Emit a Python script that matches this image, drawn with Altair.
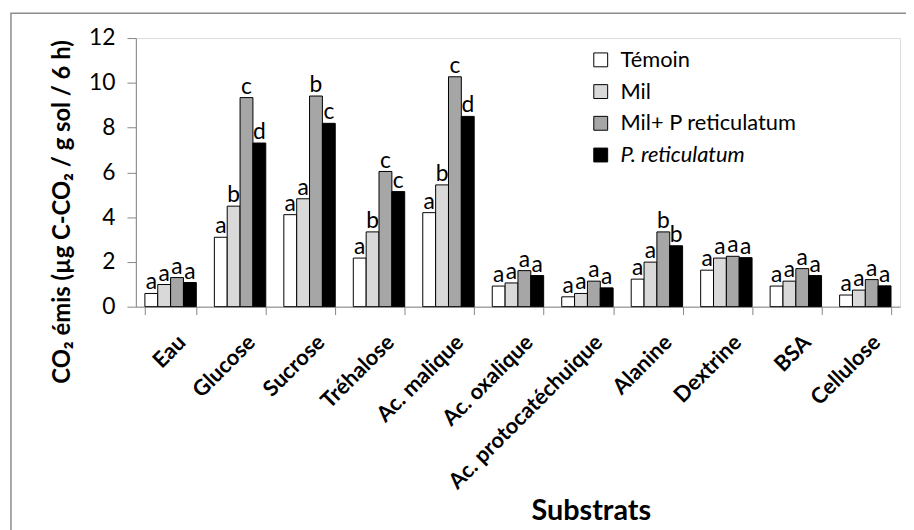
import altair as alt
import pandas as pd

substrats = ["Eau", "Glucose", "Sucrose", "Tréhalose", "Ac. malique", "Ac. oxalique",
             "Ac. protocatéchuique", "Alanine", "Dextrine", "BSA", "Cellulose"]
series = ["Témoin", "Mil", "Mil+ P reticulatum", "P. reticulatum"]
colors = ["#ffffff", "#d9d9d9", "#a6a6a6", "#000000"]

temoin = [0.59, 3.10, 4.11, 2.17, 4.20, 0.92, 0.44, 1.23, 1.63, 0.92, 0.52]
mil = [0.99, 4.49, 4.82, 3.34, 5.44, 1.06, 0.59, 1.99, 2.17, 1.14, 0.74]
mil_pret = [1.30, 9.34, 9.41, 6.04, 10.27, 1.61, 1.14, 3.34, 2.25, 1.70, 1.21]
pret = [1.08, 7.31, 8.19, 5.14, 8.50, 1.39, 0.84, 2.72, 2.19, 1.39, 0.93]

lt_temoin = ["a", "a", "a", "a", "a", "a", "a", "a", "a", "a", "a"]
lt_mil = ["a", "b", "a", "b", "b", "a", "a", "a", "a", "a", "a"]
lt_mil_pret = ["a", "c", "b", "c", "c", "a", "a", "b", "a", "a", "a"]
lt_pret = ["a", "d", "c", "c", "d", "a", "a", "b", "a", "a", "a"]

rows = []
for s, vals, lts in zip(series, [temoin, mil, mil_pret, pret],
                        [lt_temoin, lt_mil, lt_mil_pret, lt_pret]):
    for sub, v, l in zip(substrats, vals, lts):
        rows.append({"Substrat": sub, "Série": s, "CO2": v, "Lettre": l})
df = pd.DataFrame(rows)

FONT = "Lato"
GREY = "#868686"

x = alt.X("Substrat:N", sort=substrats,
          scale=alt.Scale(paddingInner=0.26, paddingOuter=0.13),
          axis=alt.Axis(title="Substrats", labelAngle=-45,
                        labelFontWeight="bold", labelFontSize=22, labelFont=FONT,
                        labelColor="black", labelPadding=17, labelOffset=4,
                        labelLimit=400,
                        tickBand="extent", tickSize=8, tickColor=GREY,
                        domainColor=GREY, titleFontSize=29, titleFont=FONT,
                        titleFontWeight="bold", titleColor="black",
                        titleX=459, titleY=215, titleAlign="center",
                        titleBaseline="alphabetic"))
y = alt.Y("CO2:Q",
          scale=alt.Scale(domain=[0, 12]),
          axis=alt.Axis(title="CO₂ émis (µg C-CO₂ / g sol / 6 h)", values=[0, 2, 4, 6, 8, 10, 12],
                        grid=False, labelFontSize=23, labelFont=FONT, labelColor="black",
                        labelPadding=12, tickSize=9, tickColor=GREY,
                        domainColor=GREY, titleFontSize=24, titleFont=FONT,
                        titleFontWeight="bold", titleColor="black",
                        titleX=-74, titleY=175, titleAngle=270, titleAlign="center",
                        titleBaseline="middle"))
xoff = alt.XOffset("Série:N", sort=series, scale=alt.Scale(paddingInner=0, paddingOuter=0))

bars = alt.Chart(df).mark_bar(stroke="black", strokeWidth=1).encode(
    x=x, y=y, xOffset=xoff,
    fill=alt.Fill("Série:N", sort=series,
                  scale=alt.Scale(domain=series, range=colors),
                  legend=alt.Legend(title=None, orient="none", legendX=458, legendY=11,
                                    symbolType="square", symbolSize=196,
                                    symbolStrokeColor="black", symbolStrokeWidth=1,
                                    labelFontSize=22, labelFont=FONT, labelColor="black",
                                    labelLimit=400,
                                    labelFontStyle={"expr": "datum.label == 'P. reticulatum' ? 'italic' : 'normal'"},
                                    rowPadding=10, labelOffset=9)),
)

text = alt.Chart(df).mark_text(baseline="alphabetic", dy=-4, fontSize=23, font=FONT,
                               color="black").encode(
    x=alt.X("Substrat:N", sort=substrats), y="CO2:Q", xOffset=xoff, text="Lettre:N")

frame = alt.Chart(pd.DataFrame({"k": [0]})).mark_rect(
    fillOpacity=0, stroke="#8c8c8c", strokeWidth=1.5, clip=False).encode(
    x=alt.value(-126), x2=alt.value(800), y=alt.value(-25), y2=alt.value(520))

chart = alt.layer(frame, bars, text).properties(
    width=771, height=271,
    padding={"left": 129, "top": 28, "right": 6, "bottom": 223},
    autosize=alt.AutoSizeParams(type="none"),
).configure_view(stroke=None).configure(background="white")

chart.save("out.html", embed_options={"renderer": "svg", "actions": False})
